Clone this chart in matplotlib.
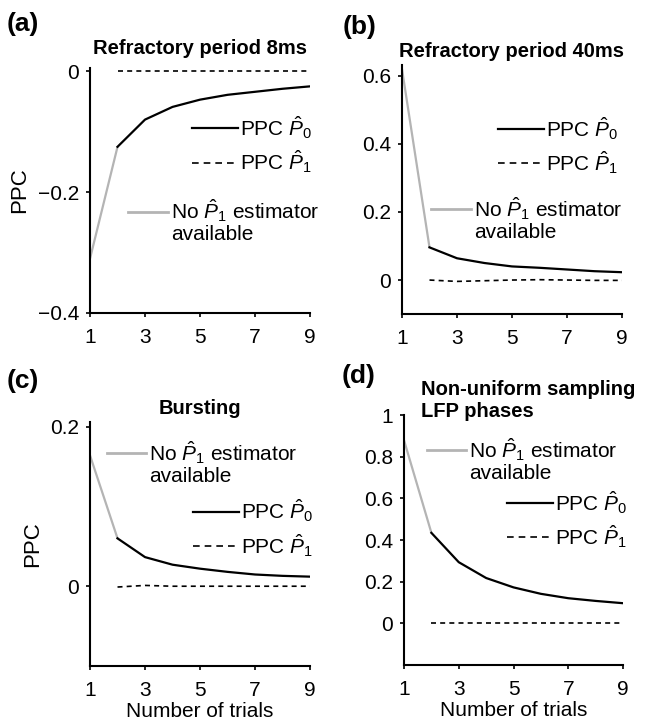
import matplotlib
matplotlib.use("Agg")
import matplotlib.pyplot as plt
from matplotlib.lines import Line2D

plt.rcParams['font.family'] = ['Liberation Sans', 'DejaVu Sans']
plt.rcParams['mathtext.fontset'] = 'custom'
plt.rcParams['mathtext.rm'] = 'Liberation Sans'
plt.rcParams['mathtext.it'] = 'Liberation Sans:italic'

# data
trials = [1, 2, 3, 4, 5, 6, 7, 8, 9]

a_p0 = [-0.31, -0.125, -0.08, -0.059, -0.047, -0.039, -0.034, -0.029, -0.025]
a_p1 = [0.0, 0.0, 0.0, 0.0, 0.0, 0.0, 0.0, 0.0]

b_p0 = [0.62, 0.096, 0.064, 0.050, 0.040, 0.036, 0.031, 0.026, 0.023]
b_p1 = [0.0, -0.004, -0.002, 0.0, 0.001, 0.0, -0.001, -0.001]

c_p0 = [0.164, 0.060, 0.0365, 0.027, 0.022, 0.018, 0.0147, 0.013, 0.012]
c_p1 = [-0.001, 0.001, 0.0, 0.0, 0.0, 0.0, 0.0, 0.0]

d_p0 = [0.88, 0.435, 0.294, 0.218, 0.173, 0.142, 0.121, 0.108, 0.097]
d_p1 = [0.0, 0.0, 0.0, 0.0, 0.0, 0.0, 0.0, 0.0]

xticks = [1, 3, 5, 7, 9]
a_yticks, a_ylabels = [-0.4, -0.2, 0], ['\u22120.4', '\u22120.2', '0']
b_yticks, b_ylabels = [0, 0.2, 0.4, 0.6], ['0', '0.2', '0.4', '0.6']
c_yticks, c_ylabels = [0, 0.2], ['0', '0.2']
d_yticks, d_ylabels = [0, 0.2, 0.4, 0.6, 0.8, 1], ['0', '0.2', '0.4', '0.6', '0.8', '1']

GRAY = '#b4b4b4'
FS = 15
TFS = 14.5


def draw_panel(ax, p0, p1, ylim, yticks, ylabels, leg1_xy, leg2_xy):
    ax.plot(trials[:2], p0[:2], color=GRAY, lw=1.6, solid_capstyle='butt')
    ax.plot(trials[1:], p0[1:], color='black', lw=1.6)
    ax.plot(trials[1:], p1, color='black', lw=1.2, linestyle=(0, (3, 2.5)))
    ax.set_xlim(1, 9)
    ax.set_ylim(*ylim)
    ax.set_xticks(xticks)
    ax.set_yticks(yticks, ylabels)
    for s in ['top', 'right']:
        ax.spines[s].set_visible(False)
    for s in ['left', 'bottom']:
        ax.spines[s].set_linewidth(1.5)
    ax.tick_params(labelsize=FS, length=3, width=1.2, direction='out')
    ax.tick_params(axis='x', pad=8)
    ax.tick_params(axis='y', pad=5)

    h0 = Line2D([], [], color='black', lw=1.6)
    h1 = Line2D([], [], color='black', lw=1.2, linestyle=(0, (4, 3)))
    leg1 = ax.legend([h0, h1], ['PPC $\\hat{P}_0$', 'PPC $\\hat{P}_1$'],
                     loc='center left', bbox_to_anchor=leg1_xy, frameon=False,
                     fontsize=FS, handlelength=2.2, handletextpad=0.1,
                     borderpad=0, borderaxespad=0, labelspacing=0.35)
    ax.add_artist(leg1)
    hg = Line2D([], [], color=GRAY, lw=2.0)
    hn = Line2D([], [], color='none')
    ax.legend([hg, hn], ['No $\\hat{P}_1$ estimator', 'available'],
              loc='center left', bbox_to_anchor=leg2_xy, frameon=False,
              fontsize=FS, handlelength=1.9, handletextpad=0.15,
              borderpad=0, borderaxespad=0, labelspacing=0.05)


fig = plt.figure(figsize=(6.49, 7.22), dpi=100)

ax_a = fig.add_axes([0.1387, 0.5665, 0.339, 0.339])
ax_b = fig.add_axes([0.6194, 0.565, 0.339, 0.345])
ax_c = fig.add_axes([0.1387, 0.0776, 0.339, 0.338])
ax_d = fig.add_axes([0.6225, 0.0789, 0.3375, 0.346])

draw_panel(ax_a, a_p0, a_p1, (-0.4, 0.005), a_yticks, a_ylabels, (0.464, 0.688), (0.173, 0.376))
draw_panel(ax_b, b_p0, b_p1, (-0.1, 0.632), b_yticks, b_ylabels, (0.438, 0.677), (0.132, 0.384))
draw_panel(ax_c, c_p0, c_p1, (-0.1, 0.206), c_yticks, c_ylabels, (0.47, 0.565), (0.076, 0.835))
draw_panel(ax_d, d_p0, d_p1, (-0.2, 1.0), d_yticks, d_ylabels, (0.469, 0.583), (0.104, 0.824))

ax_a.set_title('Refractory period 8ms', fontsize=TFS, fontweight='bold', pad=10)
ax_b.set_title('Refractory period 40ms', fontsize=TFS, fontweight='bold', pad=5.8)
ax_c.set_title('Bursting', fontsize=TFS, fontweight='bold', pad=5.8)
fig.text(421 / 649, 1 - 417 / 722, 'Non-uniform sampling\nLFP phases',
         fontsize=TFS, fontweight='bold', ha='left', va='baseline', linespacing=1.2)

ax_a.set_ylabel('PPC', fontsize=16, labelpad=5)
ax_c.set_ylabel('PPC', fontsize=16, labelpad=5)
ax_c.set_xlabel('Number of trials', fontsize=FS, labelpad=1)
ax_d.set_xlabel('Number of trials', fontsize=FS, labelpad=1)

for lab, (x, y) in zip(['(a)', '(b)', '(c)', '(d)'],
                       [(7, 24), (343, 27), (7, 381), (342, 376)]):
    fig.text(x / 649, 1 - y / 722, lab, fontsize=19, fontweight='bold',
             ha='left', va='center')

fig.savefig('out.png', dpi=100)
